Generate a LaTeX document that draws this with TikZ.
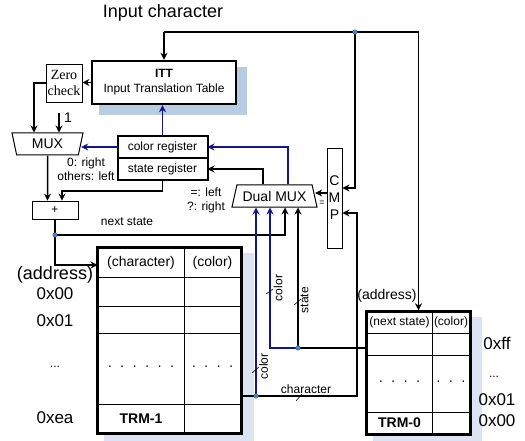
\documentclass[tikz,border=0pt]{standalone}
\usepackage{fontspec}
\setmainfont{Liberation Sans}
\newfontfamily\zerofont{Liberation Serif}
\usetikzlibrary{arrows.meta,positioning,shapes.geometric,fit,backgrounds}
\definecolor{wireblue}{RGB}{20,20,140}
\definecolor{dotblue}{RGB}{74,127,193}
\definecolor{ittshade}{RGB}{184,204,228}
\definecolor{trmshade}{RGB}{220,228,243}

\begin{document}
\begin{tikzpicture}[
x=1pt, y=-1pt,
line width=1.5pt,
lbl/.style={font=\fontsize{12}{14}\selectfont, inner sep=0},
addr/.style={font=\fontsize{17}{20}\selectfont, inner sep=0},
cell/.style={draw, fill=white, line width=1pt, inner sep=0, font=\fontsize{14}{16}\selectfont},
reg/.style={draw, fill=white, line width=1pt, inner sep=0, minimum width=89, minimum height=21, font=\fontsize{12}{14}\selectfont},
frame/.style={draw, inner sep=0, line width=2.4pt},
mux/.style={draw, fill=white, trapezium, trapezium angle=64.5, trapezium stretches body, inner sep=0, line width=1pt, minimum height=22, font=\fontsize{14}{16}\selectfont},
arr/.style={-{Stealth[length=7pt, width=7pt]}},
barr/.style={arr, wireblue},
jdot/.style={fill=dotblue, draw=none}
]
\useasboundingbox (0,0) rectangle (525,441);

% control part
\node[font=\fontsize{18}{20}\selectfont, inner sep=0] (inp) at (163,13) {Input character};
\node[frame, fill=white, minimum width=144, minimum height=43, align=center, font=\fontsize{12}{15}\selectfont] (itt) at (164,82.5) {\textbf{ITT}\\Input Translation Table};
\node[draw, line width=0.8pt, minimum width=36, minimum height=38, inner sep=0, align=center, font=\zerofont\fontsize{14}{16}\selectfont] (zero) at (64,83) {Zero\\check};
\node[mux, shape border rotate=180, minimum width=71] (mux) at (47.5,144) {MUX};
\node[font=\fontsize{14}{16}\selectfont, inner sep=0] (one) at (68,118) {1};
\coordinate (onein) at (59,113);

\node[reg] (creg) at (162.5,147) {color register};
\node[reg, below=0pt of creg] (sreg) {state register};
\node[frame, line width=2pt, fit=(creg)(sreg)] (regs) {};

\node[draw, line width=0.8pt, minimum width=46, minimum height=18, inner sep=0, font=\fontsize{12}{14}\selectfont] (plus) at (55,210) {+};
\node[mux, minimum width=85] (dmux) at (274.5,196) {Dual MUX};
\node[draw, line width=0.9pt, minimum width=15, minimum height=100, inner sep=0, align=center, font=\fontsize{14}{17}\selectfont] (cmp) at (334.5,198) {C\\M\\P};

\node[lbl, align=center] (muxrule) at (86,169) {0: right\\others: left};
\node[lbl, align=center] (dmuxrule) at (206,200) {=: left\\?: right};
\node[lbl] (nxt) at (127,222) {next state};
\node[font=\fontsize{9}{9}\selectfont, inner sep=0] (eq) at (322,203) {=};

% TRM-1
\foreach \r/\y/\h/\ta/\tb in {h/262.5/29/(character)/(color), a/291.5/29/{}/{}, b/319.5/27/{}/{}, c/368.5/71/{·~~·~~·~~·~~·~~·}/{·~~·~~·~~·}, d/418.5/29/{\textbf{TRM-1}}/{}} {
  \node[cell, minimum width=86, minimum height=\h] (t1\r a) at (141,\y) {\ta};
  \node[cell, minimum width=57, minimum height=\h] (t1\r b) at (212.5,\y) {\tb};
}
\node[frame, fit=(t1ha)(t1db)] (trm1) {};

% TRM-0
\foreach \r/\y/\h/\ta/\tb in {h/322.5/21/{\fontsize{12}{14}\selectfont(next state)}/{\fontsize{12}{14}\selectfont(color)}, a/344/22/{}/{}, c/383.5/57/{·~~·~~·~~·}/{·~~·~~·}, d/423/22/{\textbf{TRM-0}}/{}} {
  \node[cell, minimum width=65, minimum height=\h] (t0\r a) at (399.5,\y) {\ta};
  \node[cell, minimum width=38, minimum height=\h] (t0\r b) at (451,\y) {\tb};
}
\node[frame, fit=(t0ha)(t0db)] (trm0) {};

% address labels
\node[addr, font=\fontsize{18}{20}\selectfont] (addr1) at (55,275) {(address)};
\node[addr] (a1x00) at (55,294) {0x00};
\node[addr] (a1x01) at (55,321) {0x01};
\node[lbl] (a1dots) at (55,367) {...};
\node[addr] (a1xea) at (55,418) {0xea};
\node[font=\fontsize{14}{16}\selectfont, inner sep=0] (addr0) at (387,296) {(address)};
\node[addr] (a0xff) at (497,343) {0xff};
\node[lbl] (a0dots) at (494,377) {...};
\node[addr] (a0x01) at (497,400) {0x01};
\node[addr] (a0x00) at (497,421) {0x00};

% bus labels
\node[lbl, rotate=90] (lcol1) at (278,288) {color};
\node[lbl, rotate=90] (lsta) at (304.5,300) {state};
\node[lbl, rotate=90] (lcol2) at (263.5,366.5) {color};
\node[lbl] (lchar) at (306,389) {character};

% junctions
\coordinate (jin) at (164,32);
\coordinate (jcmp) at (355,32);
\coordinate (jnext) at (55,235);
\coordinate (jstate) at (298,348);
\coordinate (jcolor) at (270,348);
\coordinate (jchar) at (256,396);
\coordinate (jaddr) at (357,396);

% wires
\draw[arr] (jin) -- (itt);
\draw[arr] (jin) -| (trm0.north);
\draw[arr] (jcmp) |- ([yshift=10]cmp.east);
\draw[arr] (t1cb.east |- jchar) -- (jaddr) |- ([yshift=-15]cmp.east);
\draw[arr] (itt.west) -- (itt.west -| zero.east);
\draw[arr] (zero) -| ([xshift=-13.5]mux.north);
\draw[arr] (onein) -- (onein |- mux.north);
\draw[barr] (creg) -- (creg -| mux.east);
\draw[barr] (creg) -- (creg |- itt.south);
\draw[arr] (mux) -- (mux |- plus.north);
\draw[arr] (sreg) -- ++(0,22) -| ([xshift=7]plus.north);
\draw[arr] (plus) -- (jnext) |- ([yshift=-2.5]t1ha.west);
\draw[arr] (jnext) -| ([xshift=10.5]dmux.south);
\draw[arr] ([xshift=-11.5]dmux.north) |- (sreg);
\draw[barr] ([xshift=13.5]dmux.north) |- (creg);
\draw[arr] ([yshift=5]cmp.west) -- ([yshift=5]cmp.west -| dmux.east);
\draw[barr] (jchar) -- (jchar |- dmux.south);
\draw (trm0.west |- jstate) -- (jstate);
\draw[arr] (jstate) -- (jstate |- dmux.south);
\draw[barr] (jstate) -- (jcolor) -- (jcolor |- dmux.south);

% bus ticks
\draw[line width=0.6pt] (266,294) -- (273,289);
\draw[line width=0.6pt] (294,305) -- (301,299);
\draw[line width=0.6pt] (252,373) -- (259,367);
\draw[line width=0.6pt] (296,401) -- (302,394);

\foreach \j in {jcmp,jnext,jstate,jchar} \fill[jdot] (\j) circle (2.5);

\begin{scope}[on background layer]
\fill[ittshade] ([shift={(8,7)}]itt.north west) rectangle ([shift={(10,10)}]itt.south east);
\fill[trmshade] ([shift={(8,7)}]trm1.north west) rectangle ([shift={(11,8)}]trm1.south east);
\fill[trmshade] ([shift={(8,7)}]trm0.north west) rectangle ([shift={(10,7)}]trm0.south east);
\end{scope}

\end{tikzpicture}
\end{document}
